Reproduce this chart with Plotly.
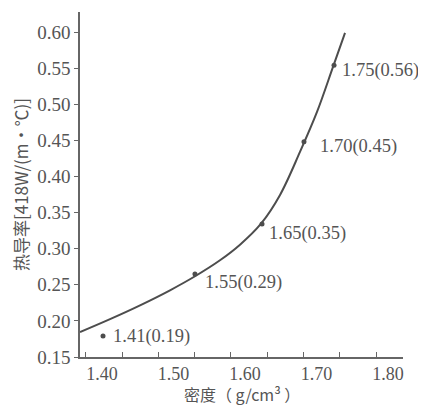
import plotly.graph_objects as go

pt_x = [1.4014, 1.530, 1.6238, 1.6825, 1.7245]
pt_y = [0.179, 0.265, 0.334, 0.448, 0.554]
pt_labels = ["1.41(0.19)", "1.55(0.29)", "1.65(0.35)", "1.70(0.45)", "1.75(0.56)"]

# fitted curve
curve_x = [1.3692, 1.4112, 1.4532, 1.4951, 1.5301, 1.5650, 1.5930, 1.6224, 1.6490, 1.6769, 1.7007, 1.7231, 1.7399]
curve_y = [0.1846, 0.2025, 0.2216, 0.2424, 0.2618, 0.2839, 0.3055, 0.3346, 0.3744, 0.4339, 0.4893, 0.5517, 0.5988]

x_ticks = [1.40, 1.50, 1.60, 1.70, 1.80]
x_ticktext = ["1.40", "1.50", "1.60", "1.70", "1.80"]
y_ticks = [0.15, 0.20, 0.25, 0.30, 0.35, 0.40, 0.45, 0.50, 0.55, 0.60]
y_ticktext = ["0.15", "0.20", "0.25", "0.30", "0.35", "0.40", "0.45", "0.50", "0.55", "0.60"]
x_title = "密度（ g/cm³ ）"
y_title = "热导率[418W/(m·℃)]"

# label offsets (pixels) relative to each point
lab_dx = [8, 8, 5, 14, 6]
lab_dy = [0, -9, -9, -5, -5]

GRAY = "#555555"
LINE = "#4d4d4d"
SERIF = "Liberation Serif"
CJK = "Noto Sans CJK SC"

fig = go.Figure()
fig.add_trace(go.Scatter(x=curve_x, y=curve_y, mode="lines",
                         line=dict(color=LINE, width=2, shape="spline", smoothing=1.0),
                         hoverinfo="skip", showlegend=False))
fig.add_trace(go.Scatter(x=pt_x, y=pt_y, mode="markers",
                         marker=dict(color=LINE, size=5),
                         showlegend=False))

for x, y, t, dx, dy in zip(pt_x, pt_y, pt_labels, lab_dx, lab_dy):
    fig.add_annotation(x=x, y=y, text=t, showarrow=False, xanchor="left", yanchor="middle",
                       xshift=dx, yshift=dy, font=dict(family=SERIF, size=18.5, color=GRAY))

# x-axis title as a paper-anchored annotation under the tick labels
fig.add_annotation(x=0.5, y=0, xref="paper", yref="paper", text=x_title, showarrow=False,
                   xanchor="center", yanchor="top", yshift=-23,
                   font=dict(family=CJK, size=16, color=GRAY))

# the page body adds an 8px margin, so the figure is sized/margined to compensate
fig.update_layout(
    width=418, height=398,
    margin=dict(l=72, r=23, t=4, b=49),
    paper_bgcolor="white", plot_bgcolor="white",
    xaxis=dict(range=[1.3692, 1.821], tickvals=x_ticks, ticktext=x_ticktext, automargin=False,
               showgrid=False, zeroline=False, showline=True, linecolor="#666666", linewidth=1.5,
               ticks="inside", ticklen=0, ticklabelstandoff=0,
               tickfont=dict(family=SERIF, size=18, color=GRAY),
               minor=dict(tick0=1.428, dtick=0.0508, ticks="inside", ticklen=5, tickwidth=1.2,
                          tickcolor="#666666", showgrid=False)),
    yaxis=dict(range=[0.15, 0.6277], tickvals=y_ticks, ticktext=y_ticktext, automargin=False,
               showgrid=False, zeroline=False, showline=True, linecolor="#666666", linewidth=1.5,
               ticks="outside", ticklen=4, tickcolor="#666666",
               tickfont=dict(family=SERIF, size=19, color=GRAY),
               title=dict(text=y_title, font=dict(family=CJK, size=17, color=GRAY), standoff=16)),
)

fig.write_html("out.html")
